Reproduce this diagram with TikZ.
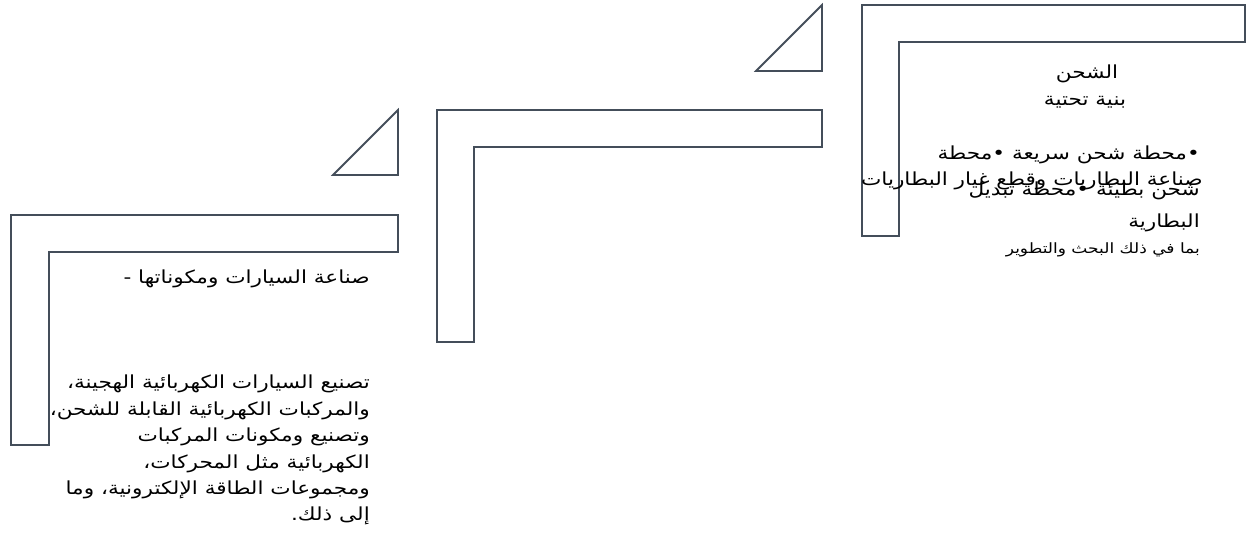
\documentclass[tikz,border=0pt]{standalone}
\usepackage{fontspec}
\usepackage{tikz}
\usetikzlibrary{calc}
\newfontfamily\arabicfont[Script=Arabic,FakeStretch=1.2]{DejaVu Sans}
\TeXXeTstate=1
\newcommand{\artxt}[1]{\beginR #1\endR}
\definecolor{linegray}{RGB}{68,78,90}
\tikzset{
	bracket/.style={draw=linegray,line width=1.8pt,line join=miter},
	artext/.style={font=\arabicfont\fontsize{18}{26.4}\selectfont,inner sep=0pt,align=right},
	smalltext/.style={font=\arabicfont\fontsize{14.2}{16}\selectfont,inner sep=0pt}
}
\begin{document}
\begin{tikzpicture}[x=1pt,y=-1pt]
		\useasboundingbox (0,0) rectangle (1250,551);
		\draw[bracket] (11,215)--(398,215)--(398,252)--(49,252)--(49,445)--(11,445)--cycle;
		\draw[bracket] (333,175)--(398,175)--(398,110)--cycle;
		\draw[bracket] (437,110)--(822,110)--(822,147)--(474,147)--(474,342)--(437,342)--cycle;
		\draw[bracket] (756,71)--(822,71)--(822,5)--cycle;
		\draw[bracket] (862,5)--(1245,5)--(1245,42)--(899,42)--(899,236)--(862,236)--cycle;
		% cars
		\node[artext,anchor=base east] (carstitle) at (370,283) {\artxt{صناعة السيارات ومكوناتها -}};
		\node[artext,anchor=north east] (carsbody) at (370,375) {\artxt{تصنيع السيارات الكهربائية الهجينة،}\\\artxt{والمركبات الكهربائية القابلة للشحن،}\\\artxt{وتصنيع ومكونات المركبات}\\\artxt{الكهربائية مثل المحركات،}\\\artxt{ومجموعات الطاقة الإلكترونية، وما}\\\artxt{إلى ذلك.}};
		% charging
		\node[artext,anchor=base] (chargetitle) at (1087,78) {\artxt{الشحن}};
		\node[artext,anchor=base] (chargesub) at (1085,105) {\artxt{بنية تحتية}};
		\node[artext,anchor=base east] (chargeone) at (1200,159) {\artxt{•محطة شحن سريعة  •محطة}};
		\node[artext,anchor=base east] (batterytitle) at (1203,185) {\artxt{صناعة البطاريات وقطع غيار البطاريات}};
		\node[artext,anchor=base east] (chargetwo) at (1200,195) {\artxt{شحن بطيئة  •محطة تبديل}};
		\node[artext,anchor=base east] (chargethree) at (1200,227) {\artxt{البطارية}};
		\node[smalltext,anchor=base east] (batterysub) at (1200,253) {\artxt{بما في ذلك البحث والتطوير}};
\end{tikzpicture}
\end{document}
